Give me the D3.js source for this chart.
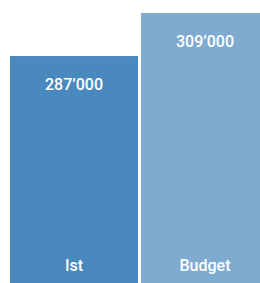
<!DOCTYPE html>
<html>
<head>
<meta charset="utf-8">
<script src="https://cdn.jsdelivr.net/npm/d3@7"></script>
<style>
  html, body { margin: 0; padding: 0; overflow: hidden; background: #fff; }
  text { font-family: Roboto, sans-serif; font-weight: 500; }
</style>
</head>
<body>
<div id="chart"></div>
<script>
const categories = ['Ist', 'Budget'];
const values = [287000, 309000];
const valueLabels = ['287’000', '309’000'];
const colors = ['#4a89be', '#80abd1'];

const graphWidth = 279;
const graphHeight = 283;
const margins = { top: 13, bottom: 0, left: 10, right: 10 };

const svg = d3.select('#chart')
  .append('svg')
  .attr('width', graphWidth)
  .attr('height', graphHeight);

const xScale = d3.scaleBand()
  .domain(categories)
  .range([margins.left, graphWidth - margins.right])
  .paddingInner(3 / 131)
  .paddingOuter(0);

// baseline is not zero in the original, bars start well above 0
const yScale = d3.scaleLinear()
  .domain([171000, d3.max(values)])
  .range([graphHeight - margins.bottom, margins.top]);

const bars = svg.selectAll('.bar')
  .data(categories)
  .enter()
  .append('g')
  .attr('class', 'bar');

bars.append('rect')
  .attr('x', (d) => xScale(d))
  .attr('y', (d, i) => yScale(values[i]))
  .attr('width', xScale.bandwidth())
  .attr('height', (d, i) => yScale.range()[0] - yScale(values[i]))
  .style('fill', (d, i) => colors[i]);

// value label near top of bar
bars.append('text')
  .attr('x', (d) => xScale(d) + xScale.bandwidth() / 2)
  .attr('y', (d, i) => yScale(values[i]) + 34)
  .attr('text-anchor', 'middle')
  .style('fill', '#fff')
  .style('font-size', '16px')
  .text((d, i) => valueLabels[i]);

// category label at bottom
bars.append('text')
  .attr('x', (d) => xScale(d) + xScale.bandwidth() / 2)
  .attr('y', graphHeight - 12)
  .attr('text-anchor', 'middle')
  .style('fill', '#fff')
  .style('font-size', '16px')
  .text((d) => d);
</script>
</body>
</html>
